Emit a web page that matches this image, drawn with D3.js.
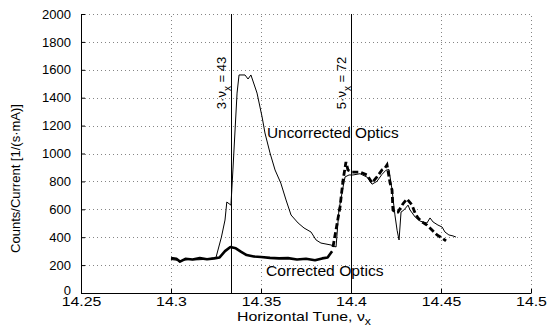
<!DOCTYPE html>
<html><head><meta charset="utf-8">
<script src="https://cdn.jsdelivr.net/npm/d3@7"></script>
<style>
html,body{margin:0;padding:0;background:#fff;}
svg text{font-family:"Liberation Sans",Arial,Helvetica,sans-serif;fill:#000;}
</style></head><body>
<svg id="c" width="547" height="327"></svg>
<script>
const xTicks = [14.25, 14.3, 14.35, 14.4, 14.45, 14.5];
const xTickLabels = ["14.25", "14.3", "14.35", "14.4", "14.45", "14.5"];
const yTicks = [0, 200, 400, 600, 800, 1000, 1200, 1400, 1600, 1800, 2000];
const resonanceTunes = [14.3333, 14.4];
const resonanceLabels = [["3\u00B7\u03BD", "x", " = 43"], ["5\u00B7\u03BD", "x", " = 72"]];

const uncorrectedX = [14.300,14.305,14.310,14.315,14.320,14.325,14.328,14.330,14.331,14.3333,14.3344,14.3367,14.3378,14.3411,14.3428,14.3444,14.3478,14.3506,14.3522,14.355,14.3578,14.361,14.3639,14.3667,14.3706,14.3739,14.3778,14.3806,14.3833,14.3889,14.3917,14.3933,14.3956,14.3967,14.3989,14.4011,14.405,14.409,14.4117,14.4144,14.4172,14.4194,14.4211,14.4228,14.4244,14.4256,14.4267,14.4278,14.4294,14.4317,14.4328,14.4356,14.4383,14.440,14.4422,14.4439,14.4456,14.4483,14.4506,14.4522,14.4544,14.4567,14.4583];
const uncorrectedY = [240,232,240,238,242,255,400,523,652,630,882,1433,1563,1563,1534,1563,1433,1262,1147,1004,882,788,667,559,502,466,437,380,358,344,330,595,760,832,846,846,855,830,780,800,850,880,885,740,560,450,380,580,595,630,595,545,516,509,502,538,509,487,473,437,416,409,401];

const correctedX = [14.300,14.303,14.305,14.308,14.312,14.316,14.320,14.324,14.327,14.330,14.333,14.336,14.339,14.342,14.346,14.350,14.355,14.360,14.365,14.370,14.375,14.380,14.384,14.387,14.3895];
const correctedY = [250,245,225,245,240,250,242,248,255,300,330,320,295,272,262,258,252,248,250,240,245,235,248,255,300];

const correctedHighX = [14.3900,14.3939,14.3956,14.3972,14.3983,14.4006,14.405,14.4089,14.4117,14.4144,14.4172,14.4189,14.4200,14.4217,14.4228,14.4233,14.4244,14.4261,14.4289,14.4311,14.4339,14.4356,14.4372,14.4394,14.4422,14.4450,14.4478,14.4506,14.4528];
const correctedHighY = [330,617,810,939,882,867,867,846,789,832,882,896,918,789,738,595,580,580,640,674,631,573,538,509,487,452,416,394,373];

const svg = d3.select("#c");
const L = 81, R = 531, T = 14, B = 293;
const x = d3.scaleLinear().domain([14.25, 14.5]).range([L, R]);
const y = d3.scaleLinear().domain([0, 2000]).range([B, T]);

// grid
const grid = svg.append("g").attr("stroke", "#666").attr("stroke-width", 0.8).attr("stroke-dasharray", "1,3");
xTicks.slice(1).forEach(t => grid.append("line").attr("x1", Math.round(x(t)) + 0.5).attr("x2", Math.round(x(t)) + 0.5).attr("y1", B).attr("y2", T));
yTicks.slice(1).forEach(t => grid.append("line").attr("x1", L).attr("x2", R).attr("y1", Math.round(y(t)) + 0.5).attr("y2", Math.round(y(t)) + 0.5));

// axes
const xAxis = d3.axisBottom(x).tickValues(xTicks).tickFormat((d, i) => xTickLabels[i]).tickSizeInner(-4).tickSizeOuter(0).tickPadding(4);
const gx = svg.append("g").attr("transform", `translate(0,${B})`).call(xAxis);
const yAxis = d3.axisLeft(y).tickValues(yTicks).tickFormat(d3.format("d")).tickSizeInner(-4).tickSizeOuter(0).tickPadding(10);
const gy = svg.append("g").attr("transform", `translate(${L},0)`).call(yAxis);
[gx, gy].forEach(g => {
  g.selectAll("path").attr("stroke", "#000").attr("stroke-width", 1);
  g.selectAll("line").attr("stroke", "#000");
  g.selectAll("text").attr("font-size", 13).attr("font-family", "Liberation Sans, Arial, sans-serif").attr("fill", "#000");
});
gx.selectAll("text").attr("dy", "0.71em").attr("transform", "scale(1.22,1)");
gy.selectAll(".tick text").filter(d => d === 0).attr("y", -3);

// resonance lines
resonanceTunes.forEach((t, i) => {
  const px = Math.round(x(t)) + 0.5;
  svg.append("line").attr("x1", px).attr("x2", px).attr("y1", T).attr("y2", B).attr("stroke", "#000").attr("stroke-width", 1);
  const tx = svg.append("text").attr("transform", `translate(${x(t) - 5},${83}) rotate(-90)`)
    .attr("text-anchor", "middle").attr("font-size", 13);
  const parts = resonanceLabels[i];
  tx.append("tspan").text(parts[0]);
  tx.append("tspan").attr("dy", 5).attr("font-size", 10).text(parts[1]);
  tx.append("tspan").attr("dy", -5).text(parts[2]);
});

const line = (xs, ys) => d3.line().x((d, i) => x(xs[i])).y((d, i) => y(ys[i]))(xs);

svg.append("path").attr("d", line(uncorrectedX, uncorrectedY)).attr("fill", "none").attr("stroke", "#000").attr("stroke-width", 1).attr("stroke-linejoin", "round");
svg.append("path").attr("d", line(correctedX, correctedY)).attr("fill", "none").attr("stroke", "#000").attr("stroke-width", 2.6).attr("stroke-linejoin", "round");
svg.append("path").attr("d", line(correctedHighX, correctedHighY)).attr("fill", "none").attr("stroke", "#000").attr("stroke-width", 2.8).attr("stroke-dasharray", "6,3");

// annotations
svg.append("text").attr("transform", "translate(267,138) scale(1.1,1)").attr("font-size", 14).text("Uncorrected Optics");
svg.append("text").attr("transform", "translate(266,276) scale(1.12,1)").attr("font-size", 14).text("Corrected Optics");

// axis labels
const xl = svg.append("text").attr("transform", "translate(304,321) scale(1.22,1)").attr("text-anchor", "middle").attr("font-size", 13);
xl.append("tspan").text("Horizontal Tune, \u03BD");
xl.append("tspan").attr("dy", 4).attr("font-size", 10).text("x");

svg.append("text").attr("transform", `translate(20,${(T + B) / 2 + 25}) rotate(-90)`).attr("text-anchor", "middle").attr("font-size", 13).text("Counts/Current [1/(s\u00B7mA)]");
</script>
</body></html>
